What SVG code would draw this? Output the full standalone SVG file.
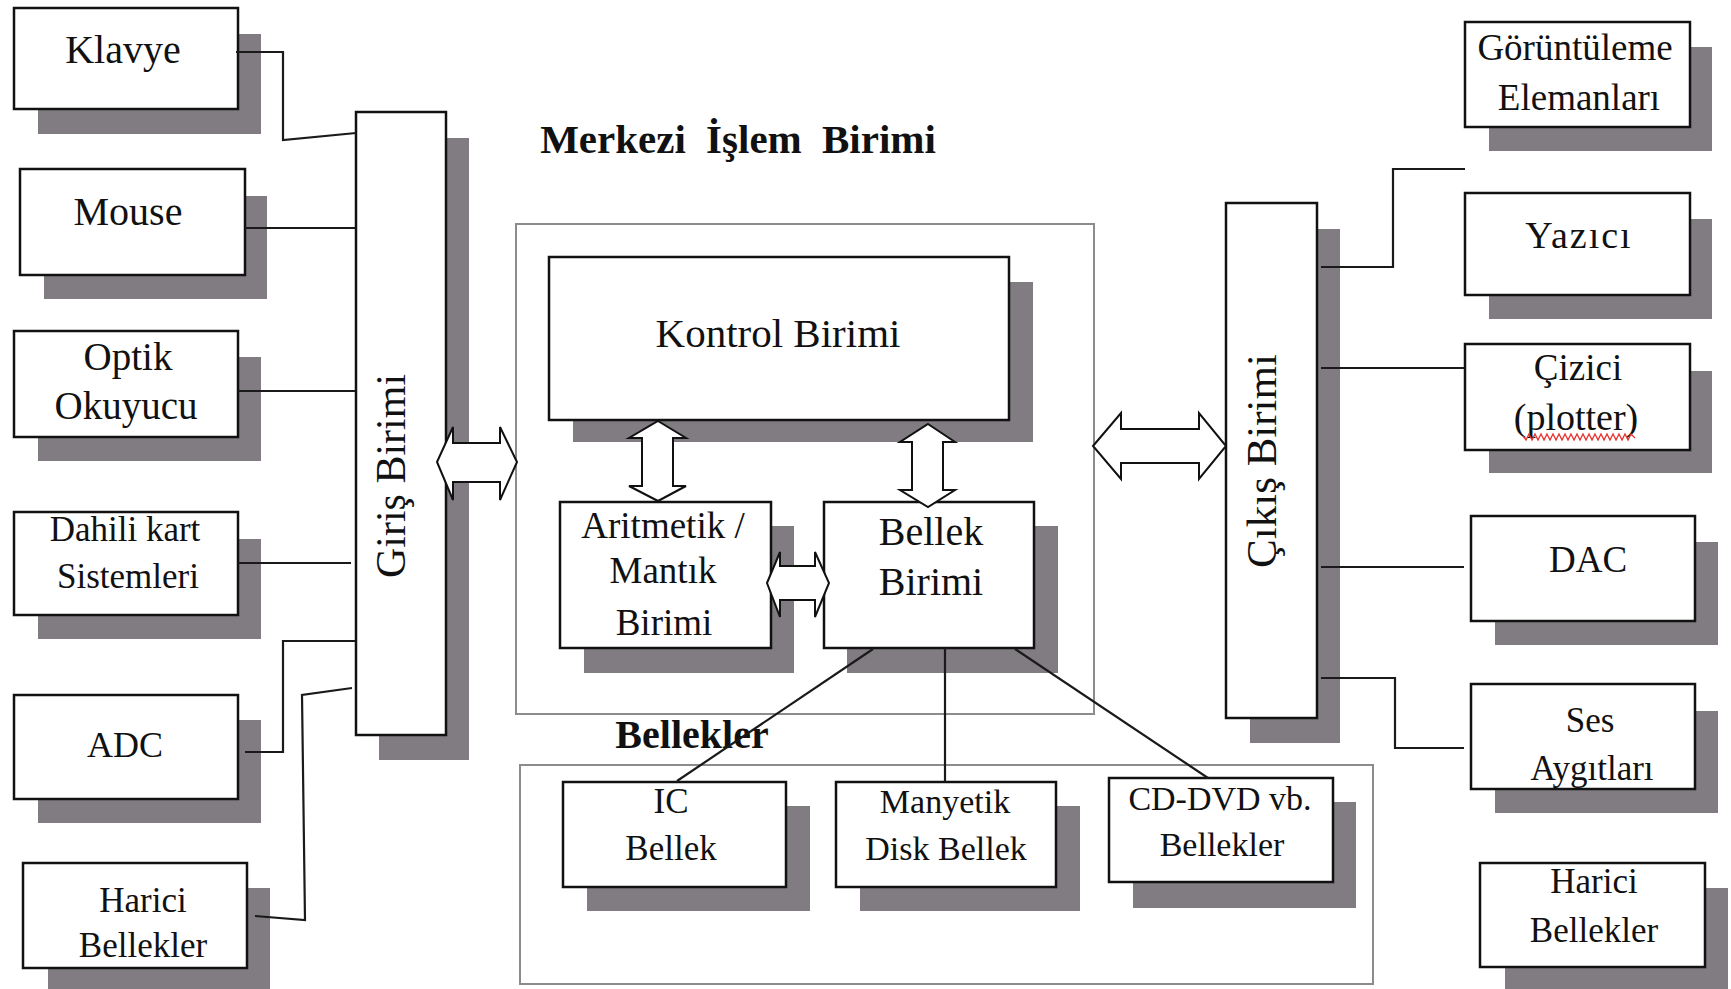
<svg xmlns="http://www.w3.org/2000/svg" width="1731" height="989" viewBox="0 0 1731 989">
<style>
.sh{fill:#807c81}
.box{fill:#fff;stroke:#111;stroke-width:2.5}
.frame{fill:none;stroke:#8c8c8c;stroke-width:2}
.ln{fill:none;stroke:#1a1a1a;stroke-width:2.2}
.arr{fill:#fff;stroke:#111;stroke-width:2;stroke-linejoin:miter}
text{font-family:"Liberation Serif","Times New Roman",serif;fill:#111;text-anchor:middle}
.b{font-weight:bold}
</style>
<rect width="1731" height="989" fill="#fff"/>

<g id="cpu-frame">
<rect class="frame" x="516" y="224" width="578" height="490"/>
<text class="b" x="738" y="153" font-size="41" word-spacing="10">Merkezi İşlem Birimi</text>
</g>
<g id="bellekler-frame">
<rect class="frame" x="520" y="765" width="853" height="219"/>
<text class="b" x="692" y="748" font-size="40">Bellekler</text>
</g>

<g id="klavye"><rect class="sh" x="38" y="34" width="223" height="100"/><rect class="box" x="14" y="8" width="224" height="101"/><text x="123" y="63" font-size="40">Klavye</text></g>
<g id="mouse"><rect class="sh" x="44" y="196" width="223" height="103"/><rect class="box" x="20" y="169" width="225" height="106"/><text x="128" y="225" font-size="40">Mouse</text></g>
<g id="optik"><rect class="sh" x="38" y="357" width="223" height="104"/><rect class="box" x="14" y="331" width="224" height="106"/><text x="128" y="370" font-size="39">Optik</text><text x="126" y="419" font-size="39">Okuyucu</text></g>
<g id="dahili"><rect class="sh" x="38" y="539" width="223" height="100"/><rect class="box" x="14" y="512" width="224" height="103"/><text x="125" y="541" font-size="35">Dahili kart</text><text x="128" y="588" font-size="35">Sistemleri</text></g>
<g id="adc"><rect class="sh" x="38" y="720" width="223" height="103"/><rect class="box" x="14" y="695" width="224" height="104"/><text x="125" y="757" font-size="36">ADC</text></g>
<g id="harici-giris"><rect class="sh" x="48" y="888" width="222" height="101"/><rect class="box" x="23" y="863" width="224" height="105"/><text x="143" y="912" font-size="35">Harici</text><text x="143" y="957" font-size="35">Bellekler</text></g>

<g id="giris-birimi"><rect class="sh" x="379" y="138" width="90" height="622"/><rect class="box" x="356" y="112" width="90" height="623"/><text transform="translate(405,476) rotate(-90)" font-size="42">Giriş Birimi</text></g>

<g id="kontrol"><rect class="sh" x="573" y="282" width="460" height="160"/><rect class="box" x="549" y="257" width="460" height="163"/><text x="778" y="347" font-size="41">Kontrol Birimi</text></g>
<g id="alu"><rect class="sh" x="584" y="526" width="210" height="147"/><rect class="box" x="560" y="502" width="211" height="146"/><text x="663" y="538" font-size="37">Aritmetik /</text><text x="663" y="583" font-size="37">Mantık</text><text x="664" y="635" font-size="37">Birimi</text></g>
<g id="bellek-birimi"><rect class="sh" x="847" y="526" width="211" height="147"/><rect class="box" x="824" y="502" width="210" height="146"/><text x="931" y="545" font-size="40">Bellek</text><text x="931" y="595" font-size="40">Birimi</text></g>

<g id="ic-bellek"><rect class="sh" x="587" y="806" width="223" height="105"/><rect class="box" x="563" y="782" width="223" height="105"/><text x="671" y="813" font-size="35">IC</text><text x="671" y="860" font-size="35">Bellek</text></g>
<g id="manyetik"><rect class="sh" x="860" y="806" width="220" height="105"/><rect class="box" x="836" y="782" width="220" height="105"/><text x="945" y="813" font-size="34">Manyetik</text><text x="946" y="860" font-size="34">Disk Bellek</text></g>
<g id="cd-dvd"><rect class="sh" x="1133" y="802" width="223" height="106"/><rect class="box" x="1109" y="778" width="224" height="104"/><text x="1220" y="810" font-size="34">CD-DVD vb.</text><text x="1222" y="856" font-size="34">Bellekler</text></g>

<g id="cikis-birimi"><rect class="sh" x="1250" y="229" width="90" height="514"/><rect class="box" x="1226" y="203" width="91" height="515"/><text transform="translate(1276,461) rotate(-90)" font-size="43">Çıkış Birimi</text></g>

<g id="goruntuleme"><rect class="sh" x="1489" y="47" width="223" height="104"/><rect class="box" x="1465" y="22" width="225" height="105"/><text x="1575" y="60" font-size="37">Görüntüleme</text><text x="1579" y="110" font-size="37">Elemanları</text></g>
<g id="yazici"><rect class="sh" x="1489" y="219" width="223" height="100"/><rect class="box" x="1465" y="193" width="225" height="102"/><text x="1579" y="248" font-size="38" letter-spacing="2">Yazıcı</text></g>
<g id="cizici"><rect class="sh" x="1489" y="371" width="223" height="102"/><rect class="box" x="1465" y="344" width="225" height="106"/><text x="1578" y="380" font-size="37">Çizici</text><text x="1576" y="430" font-size="38">(plotter)</text><polyline points="1523,436 1526,440 1529,434 1532,440 1535,434 1538,440 1541,434 1544,440 1547,434 1550,440 1553,434 1556,440 1559,434 1562,440 1565,434 1568,440 1571,434 1574,440 1577,434 1580,440 1583,434 1586,440 1589,434 1592,440 1595,434 1598,440 1601,434 1604,440 1607,434 1610,440 1613,434 1616,440 1619,434 1622,440 1625,434 1628,440 1631,434 1635,438" fill="none" stroke="#e8322f" stroke-width="1.3"/></g>
<g id="dac"><rect class="sh" x="1495" y="542" width="223" height="103"/><rect class="box" x="1471" y="516" width="224" height="105"/><text x="1588" y="572" font-size="37">DAC</text></g>
<g id="ses"><rect class="sh" x="1495" y="711" width="223" height="102"/><rect class="box" x="1471" y="684" width="224" height="105"/><text x="1590" y="732" font-size="35">Ses</text><text x="1592" y="780" font-size="35">Aygıtları</text></g>
<g id="harici-cikis"><rect class="sh" x="1505" y="888" width="223" height="101"/><rect class="box" x="1480" y="863" width="225" height="104"/><text x="1594" y="893" font-size="35">Harici</text><text x="1594" y="942" font-size="35">Bellekler</text></g>

<g id="connectors">
<polyline class="ln" points="236,52 283,52 283,140 356,133"/>
<polyline class="ln" points="245,228 356,228"/>
<polyline class="ln" points="238,391 356,391"/>
<polyline class="ln" points="238,563 351,563"/>
<polyline class="ln" points="245,752 283,752 283,641 356,641"/>
<polyline class="ln" points="255,916 305,920 302,695 352,688"/>
<polyline class="ln" points="1321,267 1393,267 1393,169 1465,169"/>
<polyline class="ln" points="1321,368 1465,368"/>
<polyline class="ln" points="1321,567 1464,567"/>
<polyline class="ln" points="1321,678 1395,678 1395,748 1464,748"/>
<line class="ln" x1="873" y1="649" x2="677" y2="781"/>
<line class="ln" x1="945" y1="648" x2="945" y2="782"/>
<line class="ln" x1="1015" y1="649" x2="1208" y2="778"/>
<polygon class="arr" points="437,462 453,427 453,443 500,443 500,427 517,462 500,500 500,482 453,482 453,500"/>
<polygon class="arr" points="1093,446 1121,413 1121,429 1199,429 1199,413 1226,446 1199,479 1199,463 1121,463 1121,479"/>
<polygon class="arr" points="767,583 780,552 780,566 815,566 815,552 829,583 815,617 815,600 780,600 780,617"/>
<polygon class="arr" points="658,421 686,438 673,438 673,486 686,486 658,501 629,486 642,486 642,438 629,438"/>
<polygon class="arr" points="928,424 955,442 943,442 943,490 955,490 928,507 900,490 912,490 912,442 900,442"/>
</g>
</svg>
